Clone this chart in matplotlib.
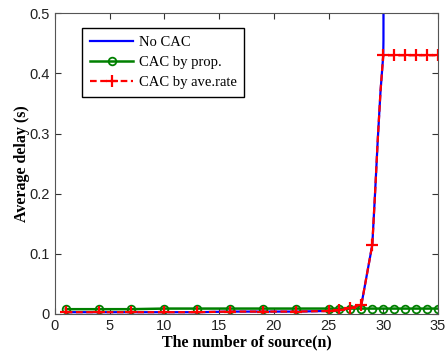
import matplotlib
matplotlib.use("Agg")
import matplotlib.pyplot as plt

# data
x_low = [1, 4, 7, 10, 13, 16, 19, 22, 25, 26, 27, 28, 29]
x_rise = [29.25, 29.5, 29.75, 30]
x_high = [31, 32, 33, 34, 35]

no_cac_x = x_low + x_rise + [30.02, 30.05]
no_cac_y = [0.003, 0.003, 0.003, 0.003, 0.003, 0.004, 0.004, 0.004, 0.005,
            0.006, 0.010, 0.015, 0.115, 0.200, 0.290, 0.370, 0.430, 0.455, 1.0]

prop_x = x_low + [30] + x_high
prop_y = [0.008, 0.008, 0.008, 0.009, 0.009, 0.009, 0.009, 0.009, 0.009,
          0.009, 0.009, 0.009, 0.009, 0.009, 0.009, 0.009, 0.009, 0.009, 0.009]

ave_x = x_low + x_rise + x_high
ave_y = [0.003, 0.003, 0.003, 0.003, 0.003, 0.004, 0.004, 0.004, 0.005,
         0.006, 0.010, 0.015, 0.115, 0.200, 0.290, 0.370, 0.430,
         0.430, 0.430, 0.430, 0.430, 0.430]
ave_marks = [i for i, v in enumerate(ave_x) if v == int(v)]

xticks = [0, 5, 10, 15, 20, 25, 30, 35]
yticks = [0, 0.1, 0.2, 0.3, 0.4, 0.5]
ytick_labels = ["0", "0.1", "0.2", "0.3", "0.4", "0.5"]

fig = plt.figure(figsize=(4.46, 3.56), dpi=100)
ax = fig.add_axes([0.123, 0.118, 0.859, 0.845])

ax.plot(no_cac_x, no_cac_y, color="blue", lw=1.6, label="No CAC")
ax.plot(prop_x, prop_y, color="#008000", lw=1.8, marker="o", ms=5.5,
        mfc="none", mew=1.3, label="CAC by prop.")
ax.plot(ave_x, ave_y, color="red", lw=1.6, ls=(0, (3, 1.6)), marker="+", ms=8,
        mew=1.6, markevery=ave_marks, label="CAC by ave.rate")

ax.set_xlim(0, 35)
ax.set_ylim(0, 0.5)
ax.set_xticks(xticks)
ax.set_yticks(yticks)
ax.set_yticklabels(ytick_labels)
ax.tick_params(direction="in", top=True, right=True, length=4,
               labelsize=10.5, colors="#333333", labelcolor="#222222")
for lab in ax.get_xticklabels() + ax.get_yticklabels():
    lab.set_family("Liberation Sans")
for s in ax.spines.values():
    s.set_color("#555555")

ax.set_xlabel("The number of source(n)", family="Liberation Serif",
              fontsize=11.5, fontweight="bold", labelpad=1)
ax.set_ylabel("Average delay (s)", family="Liberation Serif",
              fontsize=11.5, fontweight="bold", labelpad=0)

leg = ax.legend(loc="upper left", bbox_to_anchor=(0.07, 0.95), borderaxespad=0,
                prop={"family": "Liberation Serif", "size": 10.5},
                fancybox=False, edgecolor="black", framealpha=1,
                handlelength=3.0, handletextpad=0.35, borderpad=0.55,
                labelspacing=0.45)
leg.get_frame().set_linewidth(1.0)

fig.savefig("out.png", dpi=100)
